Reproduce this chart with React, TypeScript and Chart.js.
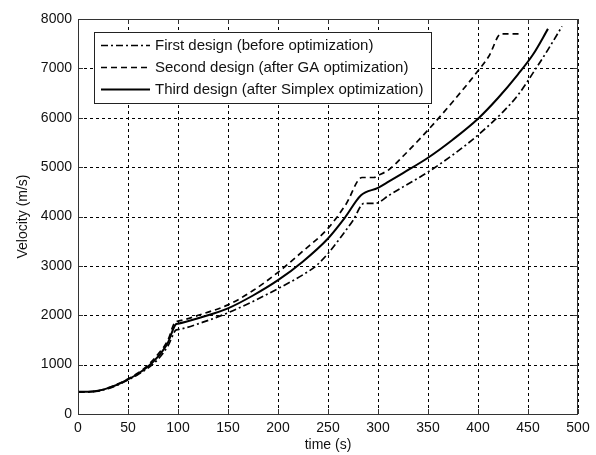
import React, { useEffect, useRef } from "react";
import { Chart, registerables } from "chart.js";

Chart.register(...registerables);

// ---- Data ----
const seriesLabels = [
  "First design (before optimization)",
  "Second design (after GA optimization)",
  "Third design (after Simplex optimization)",
];

const timeFirst = [0, 10, 20, 30, 40, 50, 60, 70, 80, 90, 98, 100, 125, 150, 175, 200, 225, 238, 250, 262, 275, 286, 297, 311, 325, 350, 375, 400, 425, 440, 458, 470, 484];
const velFirst = [450, 450, 465, 515, 590, 690, 800, 930, 1110, 1380, 1700, 1710, 1860, 2050, 2280, 2540, 2820, 3000, 3250, 3560, 3920, 4265, 4265, 4430, 4600, 4900, 5250, 5650, 6120, 6460, 7000, 7380, 7850];

const timeSecond = [0, 10, 20, 30, 40, 50, 60, 70, 80, 90, 97, 100, 125, 150, 175, 200, 225, 250, 268, 284, 296, 300, 311, 325, 350, 375, 400, 411, 423, 441];
const velSecond = [450, 450, 470, 530, 610, 710, 830, 990, 1210, 1500, 1860, 1880, 2030, 2210, 2500, 2870, 3300, 3760, 4250, 4790, 4790, 4830, 4950, 5220, 5750, 6330, 6950, 7250, 7700, 7700];

const timeThird = [0, 10, 20, 30, 40, 50, 60, 70, 80, 90, 98, 100, 125, 150, 175, 200, 225, 250, 267, 283, 300, 311, 325, 350, 375, 400, 420, 440, 455, 470];
const velThird = [450, 450, 470, 525, 600, 700, 815, 960, 1160, 1450, 1820, 1830, 1970, 2140, 2400, 2710, 3090, 3555, 3980, 4430, 4580, 4710, 4880, 5190, 5560, 5980, 6400, 6880, 7280, 7800];

const xTickValues = [0, 50, 100, 150, 200, 250, 300, 350, 400, 450, 500];
const yTickValues = [0, 1000, 2000, 3000, 4000, 5000, 6000, 7000, 8000];

const xTitle = "time (s)";
const yTitle = "Velocity (m/s)";

const FONT = "'Liberation Sans', Arial, sans-serif";

const dashPatterns = [[7, 3, 2, 3], [6, 4], []];
const lineWidths = [1.7, 1.7, 2];

const toPoints = (xs: number[], ys: number[]) => xs.map((x, i) => ({ x, y: ys[i] }));

const gridPlugin = {
  id: "matlabGrid",
  beforeDatasetsDraw(chart: any) {
    const { ctx, chartArea, scales } = chart;
    const { left, right, top, bottom } = chartArea;
    ctx.save();
    ctx.strokeStyle = "#000";
    ctx.lineWidth = 1;
    ctx.setLineDash([3, 3]);
    ctx.beginPath();
    xTickValues.forEach((v) => {
      const px = Math.round(scales.x.getPixelForValue(v)) + 0.5;
      ctx.moveTo(px, bottom);
      ctx.lineTo(px, top);
    });
    yTickValues.forEach((v) => {
      const py = Math.round(scales.y.getPixelForValue(v)) + 0.5;
      ctx.moveTo(left, py);
      ctx.lineTo(right, py);
    });
    ctx.stroke();
    ctx.restore();
  },
};

const framePlugin = {
  id: "matlabFrame",
  afterDraw(chart: any) {
    const { ctx, chartArea, scales } = chart;
    const { left, right, top, bottom } = chartArea;
    ctx.save();
    ctx.setLineDash([]);
    ctx.strokeStyle = "#333";
    ctx.lineWidth = 1;
    ctx.strokeRect(left + 0.5, top + 0.5, right - left - 1, bottom - top);
    const tl = 5;
    ctx.beginPath();
    xTickValues.forEach((v) => {
      const px = Math.round(scales.x.getPixelForValue(v)) + 0.5;
      ctx.moveTo(px, bottom);
      ctx.lineTo(px, bottom - tl);
      ctx.moveTo(px, top);
      ctx.lineTo(px, top + tl);
    });
    yTickValues.forEach((v) => {
      const py = Math.round(scales.y.getPixelForValue(v)) + 0.5;
      ctx.moveTo(left, py);
      ctx.lineTo(left + tl, py);
      ctx.moveTo(right, py);
      ctx.lineTo(right - tl, py);
    });
    ctx.stroke();

    // legend box
    const lx = 94, ly = 32, lw = 337, lh = 71;
    ctx.fillStyle = "#fff";
    ctx.fillRect(lx, ly, lw, lh);
    ctx.strokeStyle = "#222";
    ctx.lineWidth = 1;
    ctx.strokeRect(lx + 0.5, ly + 0.5, lw, lh);
    const rows = [45, 67, 89];
    chart.data.datasets.forEach((ds: any, i: number) => {
      const y = rows[i] + 0.5;
      ctx.beginPath();
      ctx.setLineDash(ds.borderDash || []);
      ctx.lineWidth = ds.borderWidth;
      ctx.strokeStyle = "#000";
      ctx.moveTo(101, y);
      ctx.lineTo(150, y);
      ctx.stroke();
      ctx.setLineDash([]);
      ctx.fillStyle = "#111";
      ctx.font = `15px ${FONT}`;
      ctx.textBaseline = "middle";
      ctx.textAlign = "left";
      ctx.fillText(ds.label, 155, rows[i] + 1);
    });
    ctx.restore();
  },
};

export default function App() {
  const canvasRef = useRef<HTMLCanvasElement | null>(null);

  useEffect(() => {
    if (!canvasRef.current) return;
    const datasets = [
      toPoints(timeFirst, velFirst),
      toPoints(timeSecond, velSecond),
      toPoints(timeThird, velThird),
    ].map((data, i) => ({
      label: seriesLabels[i],
      data,
      borderColor: "#000",
      backgroundColor: "#000",
      borderWidth: lineWidths[i],
      borderDash: dashPatterns[i],
      pointRadius: 0,
      cubicInterpolationMode: "monotone" as const,
      fill: false,
    }));

    const chart = new Chart(canvasRef.current, {
      type: "line",
      data: { datasets },
      options: {
        responsive: false,
        animation: false,
        devicePixelRatio: 1,
        layout: { padding: { top: 19, right: 18, left: 0, bottom: 0 } },
        plugins: {
          legend: { display: false },
          tooltip: { enabled: false },
        },
        scales: {
          x: {
            type: "linear",
            min: 0,
            max: 500,
            afterBuildTicks: (scale: any) => {
              scale.ticks = xTickValues.map((v) => ({ value: v }));
            },
            afterFit: (scale: any) => {
              scale.height = 41;
            },
            ticks: {
              color: "#111",
              font: { family: FONT, size: 14 },
              padding: 6,
              maxRotation: 0,
              autoSkip: false,
              callback: (v: any) => String(v),
            },
            grid: { display: false, drawTicks: false },
            border: { display: false },
            title: {
              display: true,
              text: xTitle,
              color: "#111",
              font: { family: FONT, size: 14 },
              padding: { top: 0, bottom: 1 },
            },
          },
          y: {
            type: "linear",
            min: 0,
            max: 8000,
            afterBuildTicks: (scale: any) => {
              scale.ticks = yTickValues.map((v) => ({ value: v }));
            },
            afterFit: (scale: any) => {
              scale.width = 78;
            },
            ticks: {
              color: "#111",
              font: { family: FONT, size: 14 },
              padding: 6,
              autoSkip: false,
              callback: (v: any) => String(v),
            },
            grid: { display: false, drawTicks: false },
            border: { display: false },
            title: {
              display: true,
              text: yTitle,
              color: "#111",
              font: { family: FONT, size: 14 },
              padding: { top: 15, bottom: 0 },
            },
          },
        },
      },
      plugins: [gridPlugin, framePlugin],
    });
    return () => chart.destroy();
  }, []);

  return (
    <div style={{ position: "absolute", left: 0, top: 0, width: 596, height: 455, background: "#fff" }}>
      <canvas ref={canvasRef} width={596} height={455} style={{ display: "block", width: 596, height: 455 }} />
    </div>
  );
}
